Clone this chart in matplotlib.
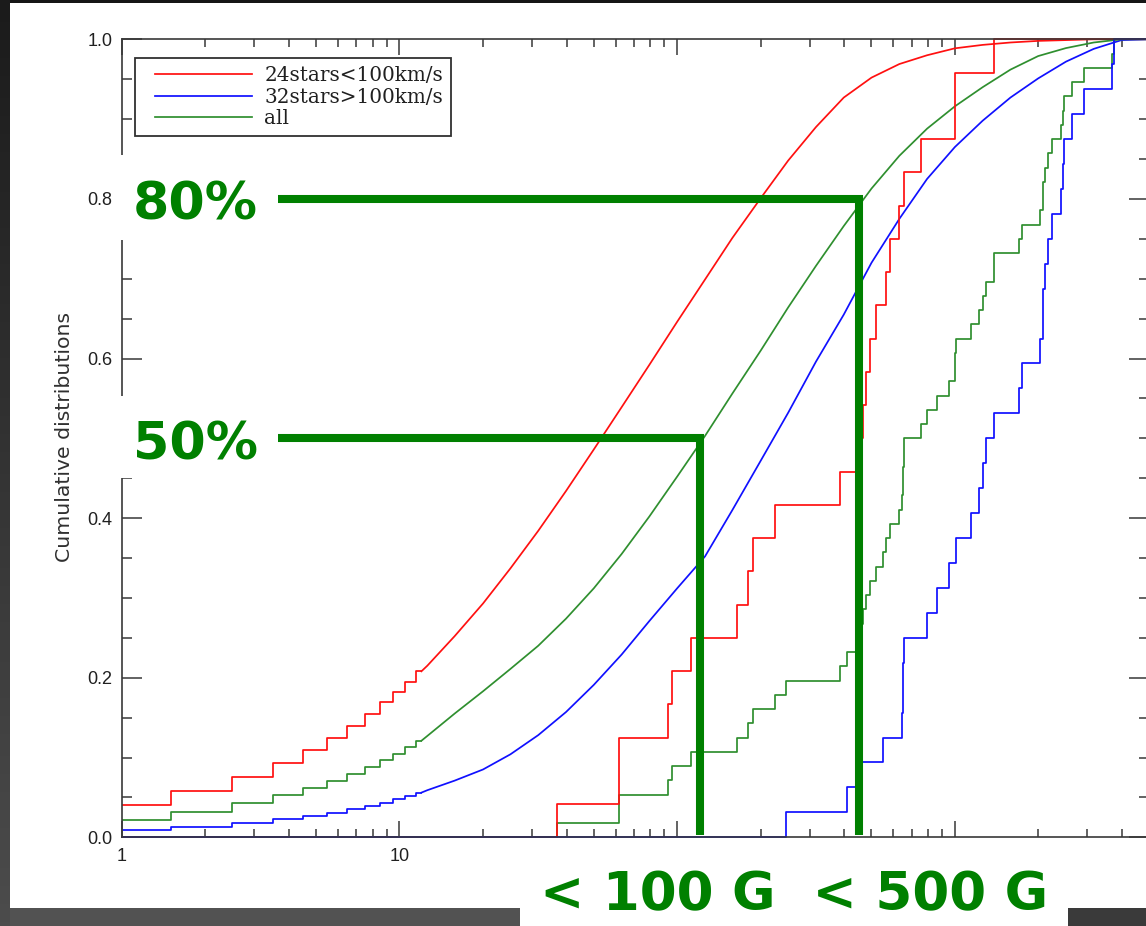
import numpy as np
import matplotlib
matplotlib.use("Agg")
import matplotlib.pyplot as plt
from matplotlib.patches import Rectangle
from matplotlib.ticker import FixedLocator, FixedFormatter, NullFormatter

W, H = 1146, 926

# ---------------- data ----------------
# field strengths (G) of individual stars
slow_stars = [37, 62, 62, 93, 96, 112, 164, 180, 188, 226, 385, 446, 466, 479,
              494, 522, 566, 582, 631, 656, 754, 1000, 1000, 1383]
fast_stars = [247, 410, 450, 550, 646, 652, 652, 658, 793, 863, 951, 1013, 1144,
              1226, 1260, 1296, 1388, 1708, 1746, 2027, 2072, 2084, 2118, 2160,
              2239, 2413, 2460, 2480, 2635, 2927, 3681, 3752]

# fitted cumulative distributions: integer grid at low field (drawn as steps)
fit_x_low = [1, 2, 3, 4, 5, 6, 7, 8, 9, 10, 11, 12]
fit_slow_low = [0.040, 0.058, 0.076, 0.093, 0.109, 0.124, 0.140, 0.155, 0.169, 0.182, 0.195, 0.208]
fit_fast_low = [0.009, 0.0125, 0.018, 0.0226, 0.027, 0.031, 0.035, 0.039, 0.043, 0.048, 0.052, 0.056]
fit_all_low = [0.022, 0.032, 0.043, 0.053, 0.062, 0.0705, 0.079, 0.0885, 0.097, 0.105, 0.1135, 0.121]

# fitted cumulative distributions at higher field
fit_x_high = [12, 12.6, 15.8, 20, 25.1, 31.6, 39.8, 50.1, 63.1, 79.4, 100, 126, 158,
              200, 251, 316, 398, 501, 631, 794, 1000, 1259, 1585, 1995, 2512, 3162,
              3981, 5000]
fit_slow_high = [0.208, 0.215, 0.252, 0.293, 0.337, 0.384, 0.434, 0.486, 0.539, 0.592,
                 0.646, 0.699, 0.751, 0.801, 0.848, 0.890, 0.927, 0.952, 0.969, 0.980,
                 0.9887, 0.993, 0.996, 0.998, 0.999, 1.0, 1.0, 1.0]
fit_all_high = [0.121, 0.127, 0.155, 0.183, 0.211, 0.240, 0.274, 0.312, 0.355, 0.402,
                0.452, 0.503, 0.556, 0.610, 0.664, 0.716, 0.766, 0.813, 0.854, 0.888,
                0.916, 0.940, 0.962, 0.979, 0.989, 0.996, 1.0, 1.0]
fit_fast_high = [0.056, 0.059, 0.071, 0.085, 0.104, 0.128, 0.157, 0.191, 0.229, 0.271,
                 0.312, 0.352, 0.410, 0.472, 0.532, 0.596, 0.655, 0.720, 0.775, 0.825,
                 0.865, 0.898, 0.927, 0.951, 0.972, 0.988, 0.999, 1.0]

legend_labels = ["24stars<100km/s", "32stars>100km/s", "all"]
y_ticks = [0.0, 0.2, 0.4, 0.6, 0.8, 1.0]
x_ticks = [1, 10, 100, 1000]
x_tick_labels = ["1", "10", "100", "1000"]

# annotation levels (fraction) and field values (G)
ann_levels = [0.5, 0.8]
ann_fields = [121, 451]
ann_texts = ["50%", "80%"]
bottom_text = "< 100 G  < 500 G"

XMIN, XMAX = 1, 5000

RED = "#ff1010"
BLUE = "#1010ff"
GREEN = "#2f8f2f"
ANN = "#008000"

# ---------------- figure ----------------
fig = plt.figure(figsize=(W / 100, H / 100), dpi=100)
fig.patch.set_facecolor("white")


def fx(px):
    return px / W


def fy(py):
    return 1 - py / H


# slide frame (dark borders)
fig.add_artist(Rectangle((0, fy(3)), 1, 3 / H, transform=fig.transFigure,
                         facecolor="#161616", edgecolor="none", zorder=-5))
gax = fig.add_axes([0, 0, fx(10), 1], zorder=-5)
grad = np.linspace(0, 1, 256).reshape(-1, 1)
gax.imshow(grad, aspect="auto", cmap=matplotlib.colors.LinearSegmentedColormap.from_list(
    "g", ["#1b1b1b", "#4c4c4c"]), extent=[0, 1, 1, 0])
gax.set_axis_off()
fig.add_artist(Rectangle((fx(10), 0), fx(520) - fx(10), 18 / H, transform=fig.transFigure,
                         facecolor="#525252", edgecolor="none", zorder=-5))
fig.add_artist(Rectangle((fx(1068), 0), 1 - fx(1068), 18 / H, transform=fig.transFigure,
                         facecolor="#3a3a3a", edgecolor="none", zorder=-5))

# main axes
left_px, right_px, top_px, bot_px = 121.7, 1149.0, 39.3, 837.3
AW, AH = right_px - left_px, bot_px - top_px
ax = fig.add_axes([fx(left_px), fy(bot_px), AW / W, AH / H])
ax.set_facecolor("none")
ax.set_xscale("log")
ax.set_xlim(XMIN, XMAX)
ax.set_ylim(0, 1)


def axx(px):
    return (px - left_px) / AW


def axy(py):
    return (bot_px - py) / AH


lw = 1.25
# fitted curves (low part stepped on integer grid, then smooth)
ax.plot(fit_x_low, fit_slow_low, drawstyle="steps-mid", color=RED, lw=lw)
ax.plot(fit_x_high, fit_slow_high, color=RED, lw=lw, label=legend_labels[0])
ax.plot(fit_x_low, fit_fast_low, drawstyle="steps-mid", color=BLUE, lw=lw)
ax.plot(fit_x_high, fit_fast_high, color=BLUE, lw=lw, label=legend_labels[1])
ax.plot(fit_x_low, fit_all_low, drawstyle="steps-mid", color=GREEN, lw=lw)
ax.plot(fit_x_high, fit_all_high, color=GREEN, lw=lw, label=legend_labels[2])


def ecdf(vals):
    v = np.sort(np.asarray(vals, dtype=float))
    n = len(v)
    x = np.r_[XMIN, v, XMAX]
    y = np.r_[0.0, np.arange(1, n + 1) / n, 1.0]
    return x, y


for vals, col in [(slow_stars + fast_stars, GREEN), (slow_stars, RED), (fast_stars, BLUE)]:
    x, y = ecdf(vals)
    ax.plot(x, y, drawstyle="steps-post", color=col, lw=lw, clip_on=False)

# axes styling
for s in ax.spines.values():
    s.set_color("#383838")
    s.set_linewidth(1.2)
ax.xaxis.set_major_locator(FixedLocator(x_ticks))
ax.xaxis.set_major_formatter(FixedFormatter(x_tick_labels))
minor_x = [m * 10 ** d for d in range(0, 4) for m in range(2, 10) if m * 10 ** d < XMAX]
ax.xaxis.set_minor_locator(FixedLocator(minor_x))
ax.xaxis.set_minor_formatter(NullFormatter())
ax.yaxis.set_major_locator(FixedLocator(y_ticks))
ax.yaxis.set_major_formatter(FixedFormatter(["%.1f" % v for v in y_ticks]))
ax.yaxis.set_minor_locator(FixedLocator(np.arange(0, 1.0001, 0.05)))

ax.tick_params(axis="both", which="both", direction="in", top=True, right=True,
               colors="#383838", width=1.1)
ax.tick_params(axis="x", which="major", length=11.5, pad=8)
ax.tick_params(axis="x", which="minor", length=5.8)
ax.tick_params(axis="y", which="major", length=14.4, pad=6.5)
ax.tick_params(axis="y", which="minor", length=7.2)
for lab in ax.get_xticklabels() + ax.get_yticklabels():
    lab.set_fontfamily("Liberation Sans")
    lab.set_fontsize(13)
    lab.set_color("#202020")

ax.set_ylabel("Cumulative distributions", fontfamily="DejaVu Sans", fontsize=14.7,
              color="#303030")
ax.yaxis.set_label_coords(axx(74), axy(437))

# legend: frame drawn as a patch, entries placed inside it
ax.add_patch(Rectangle((axx(135), axy(136)), axx(451) - axx(135), axy(58) - axy(136),
                       transform=ax.transAxes, facecolor="white", edgecolor="#303030",
                       lw=1.3, zorder=5))
leg = ax.legend(loc="upper left", bbox_to_anchor=(axx(155), axy(66)),
                borderaxespad=0, frameon=False,
                prop={"family": "DejaVu Serif", "size": 14.4},
                handlelength=4.85, handletextpad=0.62, labelspacing=0.13,
                borderpad=0)
leg.set_zorder(6)
for t in leg.get_texts():
    t.set_color("#202020")

# ---------------- annotations ----------------
# white patches masking the axis behind the labels
for y0, y1 in [(155, 240), (396, 478)]:
    fig.add_artist(Rectangle((fx(112), fy(y1)), fx(276) - fx(112), (y1 - y0) / H,
                             transform=fig.transFigure, facecolor="white",
                             edgecolor="none", zorder=10))
fig.add_artist(Rectangle((fx(520), 0), fx(1068) - fx(520), (H - 846) / H,
                         transform=fig.transFigure, facecolor="white",
                         edgecolor="none", zorder=10))

for lev, fld, txt in zip(ann_levels, ann_fields, ann_texts):
    ax.plot([3.65, fld, fld], [lev, lev, 0.003], color=ANN, lw=5.8,
            solid_joinstyle="miter", solid_capstyle="butt", zorder=20)
    base_py = bot_px - lev * AH + 21
    fig.text(fx(133), fy(base_py), txt, fontfamily="DejaVu Sans", fontweight="bold",
             fontsize=37.6, color=ANN, ha="left", va="baseline", zorder=11)

fig.text(fx(540), fy(910), bottom_text, fontfamily="DejaVu Sans", fontweight="bold",
         fontsize=38.2, color=ANN, ha="left", va="baseline", zorder=11)

fig.savefig("out.png", dpi=100)
